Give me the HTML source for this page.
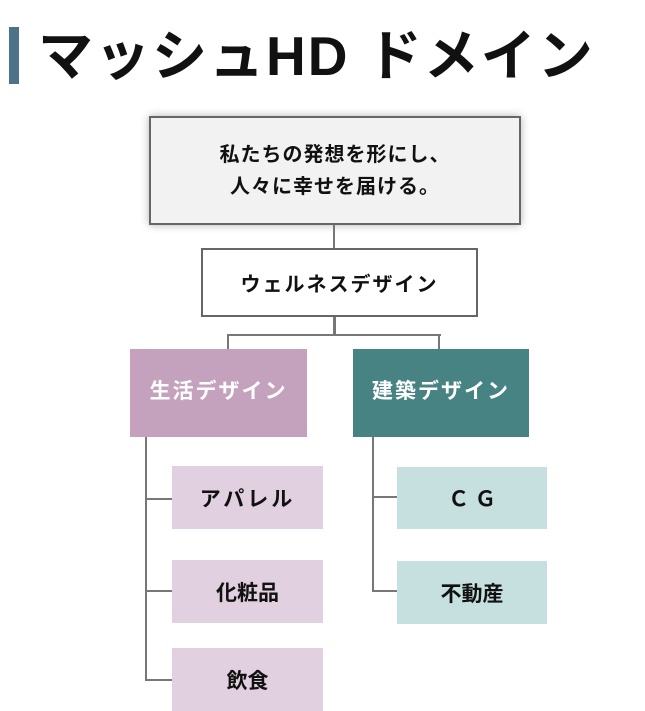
<!DOCTYPE html>
<html><head><meta charset="utf-8"><style>
body{margin:0;width:645px;height:711px;background:#fff;position:relative;overflow:hidden;font-family:"Liberation Sans","Noto Sans CJK JP",sans-serif;}
.a{position:absolute;box-sizing:border-box;display:flex;align-items:center;justify-content:center;text-align:center;font-weight:bold;color:#111;}
.l{position:absolute;background:#777;}
</style></head><body>
<div style="position:absolute;left:9px;top:27px;width:10px;height:57px;background:#4d7389"></div>
<div style="position:absolute;left:38px;top:19px;font-size:55px;font-weight:bold;letter-spacing:2px;line-height:74px;color:#111;white-space:nowrap">マッシュHD ドメイン</div>
<div class="a" style="left:149px;top:116px;width:372px;height:109px;background:#f2f2f2;border:2px solid #666;box-shadow:0 0 8px rgba(0,0,0,.3);font-size:20px;letter-spacing:1px;line-height:32px">私たちの発想を形にし、<br>人々に幸せを届ける。</div>
<div class="l" style="left:333px;top:225px;width:2px;height:23px"></div>
<div class="a" style="left:201px;top:248px;width:277px;height:69px;border:2px solid #666;font-size:20px;letter-spacing:2px">ウェルネスデザイン</div>
<div class="l" style="left:333px;top:317px;width:3px;height:19px"></div>
<div class="l" style="left:227px;top:334px;width:214px;height:2px"></div>
<div class="l" style="left:227px;top:334px;width:2px;height:15px"></div>
<div class="l" style="left:438px;top:334px;width:2px;height:15px"></div>
<div class="a" style="left:130px;top:349px;width:177px;height:88px;background:#c4a2bd;color:#fff;font-size:21px;letter-spacing:2px;padding-bottom:6px">生活デザイン</div>
<div class="a" style="left:353px;top:349px;width:176px;height:88px;background:#478383;color:#fff;font-size:21px;letter-spacing:2px;padding-bottom:6px">建築デザイン</div>
<div class="l" style="left:145px;top:437px;width:2px;height:244px"></div>
<div class="l" style="left:145px;top:498px;width:27px;height:2px"></div>
<div class="l" style="left:145px;top:590px;width:27px;height:2px"></div>
<div class="l" style="left:145px;top:679px;width:27px;height:2px"></div>
<div class="l" style="left:372px;top:437px;width:2px;height:155px"></div>
<div class="l" style="left:372px;top:496px;width:25px;height:2px"></div>
<div class="l" style="left:372px;top:590px;width:25px;height:2px"></div>
<div class="a" style="left:172px;top:466px;width:151px;height:63px;background:#e1d0df;font-size:21px;letter-spacing:3px">アパレル</div>
<div class="a" style="left:172px;top:560px;width:151px;height:63px;background:#e1d0df;font-size:21px">化粧品</div>
<div class="a" style="left:172px;top:648px;width:151px;height:63px;background:#e1d0df;font-size:21px">飲食</div>
<div class="a" style="left:397px;top:467px;width:150px;height:62px;background:#c6e0e0;font-size:21px">Ｃ Ｇ</div>
<div class="a" style="left:397px;top:561px;width:150px;height:63px;background:#c6e0e0;font-size:21px">不動産</div>
</body></html>
